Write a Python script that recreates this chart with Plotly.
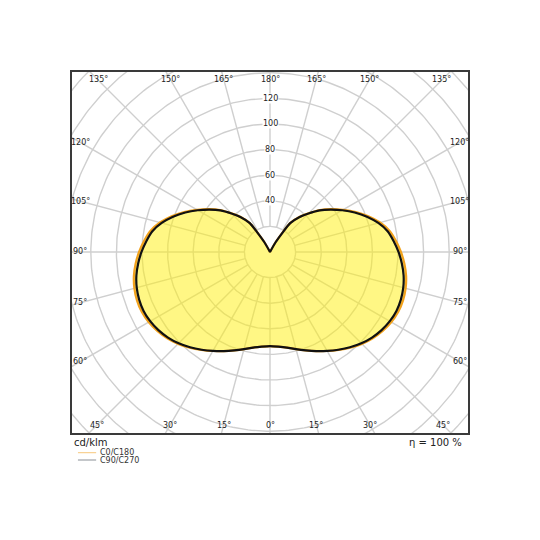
import numpy as np
import plotly.graph_objects as go

# Gamma angles (deg, 0 = downward) and luminous intensity (cd/klm)
gamma = [0, 5, 10, 15, 20, 25, 30, 35, 40, 45, 50, 55, 60, 65, 70, 75, 80, 85, 90,
         95, 100, 105, 110, 115, 120, 125, 130, 135, 140, 145, 150, 155, 160, 165, 170, 175, 180]
c0_c180 = [73.5, 74.2, 75.8, 78.6, 81.8, 85.4, 89.3, 93.4, 97.6, 101.5, 104.8, 107.5, 109.5,
           110.6, 110.6, 109.7, 108.0, 105.4, 102.3, 98.8, 94.9, 89.0, 81.8, 74.0, 65.9, 58.3,
           50.9, 42.7, 35.6, 27.5, 9.0, 0.0, 0.0, 0.0, 0.0, 0.0, 0.0]
c90_c270 = [73.5, 74.2, 75.8, 78.6, 81.8, 85.4, 89.2, 93.2, 97.2, 100.9, 104.0, 106.4, 108.1,
            109.0, 108.8, 107.8, 106.0, 103.4, 100.4, 97.0, 93.3, 87.6, 80.6, 73.0, 65.2, 57.8,
            50.6, 42.5, 35.5, 27.5, 9.0, 0.0, 0.0, 0.0, 0.0, 0.0, 0.0]

ring_values = [20, 40, 60, 80, 100, 120, 140, 160, 180, 200, 220]
ring_labels = [40, 60, 80, 100, 120]
spoke_angles = list(range(0, 360, 15))
top_labels = [135, 150, 165, 180]
side_labels = [120, 105, 90, 75, 60]
bottom_labels = [45, 30, 15, 0]

FONT = "DejaVu Sans"
# plot area geometry (px): 396 x 361, 1.28 px per cd/klm
XR = 154.7
YLO, YHI = -141.4, 140.6
SC = 1.28


def to_xy(g_deg, r, side=1):
    g = np.radians(np.asarray(g_deg, dtype=float))
    r = np.asarray(r, dtype=float)
    return side * r * np.sin(g), -r * np.cos(g)


def full_curve(vals):
    xr, yr = to_xy(gamma, vals, 1)
    xl, yl = to_xy(gamma[::-1], vals[::-1], -1)
    return np.concatenate([xr, xl]), np.concatenate([yr, yl])


fig = go.Figure()
grid_col = "#cfcfcf"
# rings
t = np.linspace(0, 2 * np.pi, 361)
for rv in ring_values:
    fig.add_trace(go.Scatter(x=rv * np.cos(t), y=rv * np.sin(t), mode="lines",
                             line=dict(color=grid_col, width=1.4), hoverinfo="skip",
                             showlegend=False))
# spokes
for a in spoke_angles:
    xs, ys = to_xy([a, a], [20, 300])
    fig.add_trace(go.Scatter(x=xs, y=ys, mode="lines",
                             line=dict(color=grid_col, width=1.4), hoverinfo="skip",
                             showlegend=False))

x0, y0 = full_curve(c0_c180)
x9, y9 = full_curve(c90_c270)
fig.add_trace(go.Scatter(x=x0, y=y0, mode="lines", fill="toself",
                         fillcolor="rgba(255,240,20,0.52)",
                         line=dict(color="#f2a21c", width=2.2, shape="spline", smoothing=0.6),
                         name="C0/C180", showlegend=False, hoverinfo="skip"))
fig.add_trace(go.Scatter(x=x9, y=y9, mode="lines",
                         line=dict(color="#111111", width=2.2, shape="spline", smoothing=0.6),
                         name="C90/C270", showlegend=False, hoverinfo="skip"))

ann = []
for v in ring_labels:
    ann.append(dict(x=0, y=v, text=str(v), showarrow=False, bgcolor="white",
                    borderpad=0, font=dict(family=FONT, size=8, color="#222")))

ytop = (252 - 80) / SC
for a in top_labels:
    g = np.radians(a)
    for s in ((1,) if a == 180 else (-1, 1)):
        r = ytop / (-np.cos(g))
        ann.append(dict(x=s * r * np.sin(g), y=ytop, text=f"{a}°", showarrow=False,
                        font=dict(family=FONT, size=8, color="#222")))
ybot = -(425 - 252) / SC
for a in bottom_labels:
    g = np.radians(a)
    for s in ((1,) if a == 0 else (-1, 1)):
        r = -ybot / np.cos(g)
        ann.append(dict(x=s * r * np.sin(g), y=ybot, text=f"{a}°", showarrow=False,
                        font=dict(family=FONT, size=8, color="#222")))
xside = (270 - 80) / SC
for a in side_labels:
    g = np.radians(a)
    for s in (-1, 1):
        r = xside / np.sin(g)
        ann.append(dict(x=s * xside, y=-r * np.cos(g), text=f"{a}°", showarrow=False,
                        font=dict(family=FONT, size=8, color="#222")))

ann.append(dict(xref="paper", yref="paper", x=0.0, y=-0.005, xanchor="left", yanchor="top",
                text="cd/klm", showarrow=False, font=dict(family=FONT, size=10, color="#222")))
ann.append(dict(xref="paper", yref="paper", x=0.99, y=-0.005, xanchor="right", yanchor="top",
                text="η = 100 %", showarrow=False, font=dict(family=FONT, size=10, color="#222")))
ann.append(dict(xref="paper", yref="paper", x=0.066, y=-0.0546, xanchor="left", yanchor="middle",
                text="C0/C180", showarrow=False, font=dict(family=FONT, size=8, color="#333")))
ann.append(dict(xref="paper", yref="paper", x=0.066, y=-0.0748, xanchor="left", yanchor="middle",
                text="C90/C270", showarrow=False, font=dict(family=FONT, size=8, color="#333")))

shapes = [
    dict(type="line", xref="paper", yref="paper", x0=0.015, x1=0.061, y0=-0.0546, y1=-0.0546,
         line=dict(color="#f7c77a", width=1)),
    dict(type="line", xref="paper", yref="paper", x0=0.015, x1=0.061, y0=-0.0748, y1=-0.0748,
         line=dict(color="#8a8f96", width=1)),
]

fig.update_layout(
    width=524, height=524,
    margin=dict(l=64, r=64, t=64, b=99),
    paper_bgcolor="white", plot_bgcolor="white",
    xaxis=dict(range=[-XR, XR], showgrid=False, zeroline=False, showticklabels=False,
               ticks="", showline=True, mirror=True, linecolor="#3a3a3a", linewidth=2,
               fixedrange=True),
    yaxis=dict(range=[YLO, YHI], showgrid=False, zeroline=False, showticklabels=False,
               ticks="", showline=True, mirror=True, linecolor="#3a3a3a", linewidth=2,
               fixedrange=True),
    annotations=ann, shapes=shapes, showlegend=False,
    font=dict(family=FONT),
)

fig.write_html("out.html")
